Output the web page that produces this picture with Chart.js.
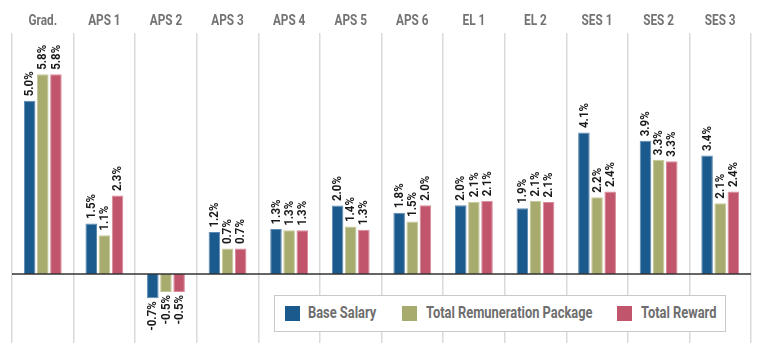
<!DOCTYPE html>
<html>
<head>
<meta charset="utf-8">
<script src="https://cdn.jsdelivr.net/npm/chart.js@4"></script>
<style>
  html, body { margin: 0; padding: 0; background: #fff; }
  #wrap { position: relative; width: 768px; height: 361px; }
  #legend {
    position: absolute; left: 274px; top: 295px; width: 452px; height: 37px;
    border: 1px solid #c9c9c9; background: #fff; box-sizing: border-box;
    font-family: Roboto, sans-serif; font-weight: bold; font-size: 16px; color: #6e6e6e;
  }
  #legend .sw { position: absolute; top: 10px; width: 15px; height: 15px; }
  #legend .tx { position: absolute; top: 7px; white-space: nowrap; transform-origin: 0 50%; }
</style>
</head>
<body>
<div id="wrap">
  <canvas id="c" width="768" height="361"></canvas>
  <div id="legend"></div>
</div>
<script>
const FONT = 'Roboto, sans-serif';

const grades = ['Grad.', 'APS 1', 'APS 2', 'APS 3', 'APS 4', 'APS 5', 'APS 6', 'EL 1', 'EL 2', 'SES 1', 'SES 2', 'SES 3'];
const baseSalary = [5.03, 1.47, -0.70, 1.22, 1.31, 1.99, 1.78, 2.00, 1.91, 4.11, 3.87, 3.44];
const totalRemuneration = [5.80, 1.13, -0.52, 0.74, 1.27, 1.38, 1.53, 2.10, 2.12, 2.23, 3.32, 2.06];
const totalReward = [5.80, 2.28, -0.52, 0.74, 1.27, 1.29, 2.00, 2.13, 2.09, 2.40, 3.28, 2.40];

const seriesNames = ['Base Salary', 'Total Remuneration Package', 'Total Reward'];
const seriesColors = ['#1b5a8d', '#a8ab6e', '#c0556b'];
const seriesEdges = ['#5d8bb3', '#c6c89b', '#d98a9a'];

// no condensed font installed, so squeeze text horizontally
function squeeze(ctx, font, sample, target) {
  ctx.save();
  ctx.font = font;
  const w = ctx.measureText(sample).width;
  ctx.restore();
  return target / w;
}

const extras = {
  id: 'extras',
  afterDatasetsDraw(chart) {
    const ctx = chart.ctx;
    const x = chart.scales.x;
    const y = chart.scales.y;
    const area = chart.chartArea;
    const y0 = y.getPixelForValue(0);
    ctx.save();

    // zero line
    ctx.strokeStyle = '#333';
    ctx.lineWidth = 1.5;
    ctx.beginPath();
    ctx.moveTo(area.left, y0);
    ctx.lineTo(area.right, y0);
    ctx.stroke();

    // category labels on top
    const catFont = 'bold 15px ' + FONT;
    const kc = squeeze(ctx, catFont, 'APS 1', 32.5);
    ctx.font = catFont;
    ctx.fillStyle = '#737373';
    ctx.textAlign = 'center';
    ctx.textBaseline = 'middle';
    grades.forEach((g, i) => {
      ctx.save();
      ctx.translate(x.getPixelForValue(i), 21);
      ctx.scale(kc, 1);
      ctx.fillText(g, 0, 0);
      ctx.restore();
    });

    // rotated value labels
    const valFont = 'bold 12.5px ' + FONT;
    const kv = squeeze(ctx, valFont, '5.0%', 25);
    ctx.font = valFont;
    ctx.fillStyle = '#1a1a1a';
    chart.data.datasets.forEach((ds, di) => {
      chart.getDatasetMeta(di).data.forEach((bar, i) => {
        const v = ds.data[i];
        const txt = v.toFixed(1) + '%';
        ctx.save();
        ctx.translate(bar.x, bar.y);
        ctx.rotate(-Math.PI / 2);
        ctx.scale(kv, 1);
        if (v >= 0) {
          ctx.textAlign = 'left';
          ctx.fillText(txt, 4.5 / kv, 0.5);
        } else {
          ctx.textAlign = 'right';
          ctx.fillText(txt, -3 / kv, 0.5);
        }
        ctx.restore();
      });
    });
    ctx.restore();
  }
};

new Chart(document.getElementById('c'), {
  type: 'bar',
  data: {
    labels: grades,
    datasets: [baseSalary, totalRemuneration, totalReward].map((d, i) => ({
      label: seriesNames[i],
      data: d,
      backgroundColor: seriesColors[i],
      borderColor: seriesEdges[i],
      borderWidth: 1,
      categoryPercentage: 0.64,
      barPercentage: 0.88
    }))
  },
  options: {
    responsive: false,
    animation: false,
    layout: { padding: { left: 12, right: 17, top: 33, bottom: 18 } },
    plugins: { legend: { display: false }, tooltip: { enabled: false } },
    scales: {
      x: {
        position: 'top',
        grid: { color: '#dadada', lineWidth: 1.5, drawTicks: false, offset: true },
        border: { display: false },
        ticks: { display: false }
      },
      y: {
        display: false,
        min: -2,
        max: 7
      }
    }
  },
  plugins: [extras]
});

// legend
const legend = document.getElementById('legend');
const swX = [10, 127, 342];
const txX = [33, 151, 366];
const mctx = document.createElement('canvas').getContext('2d');
mctx.font = 'bold 16px ' + FONT;
const kl = 166.5 / mctx.measureText('Total Remuneration Package').width;
seriesNames.forEach((name, i) => {
  const sw = document.createElement('div');
  sw.className = 'sw';
  sw.style.left = swX[i] + 'px';
  sw.style.background = seriesColors[i];
  legend.appendChild(sw);
  const tx = document.createElement('div');
  tx.className = 'tx';
  tx.style.left = txX[i] + 'px';
  tx.style.transform = 'scaleX(' + kl + ')';
  tx.textContent = name;
  legend.appendChild(tx);
});
</script>
</body>
</html>
